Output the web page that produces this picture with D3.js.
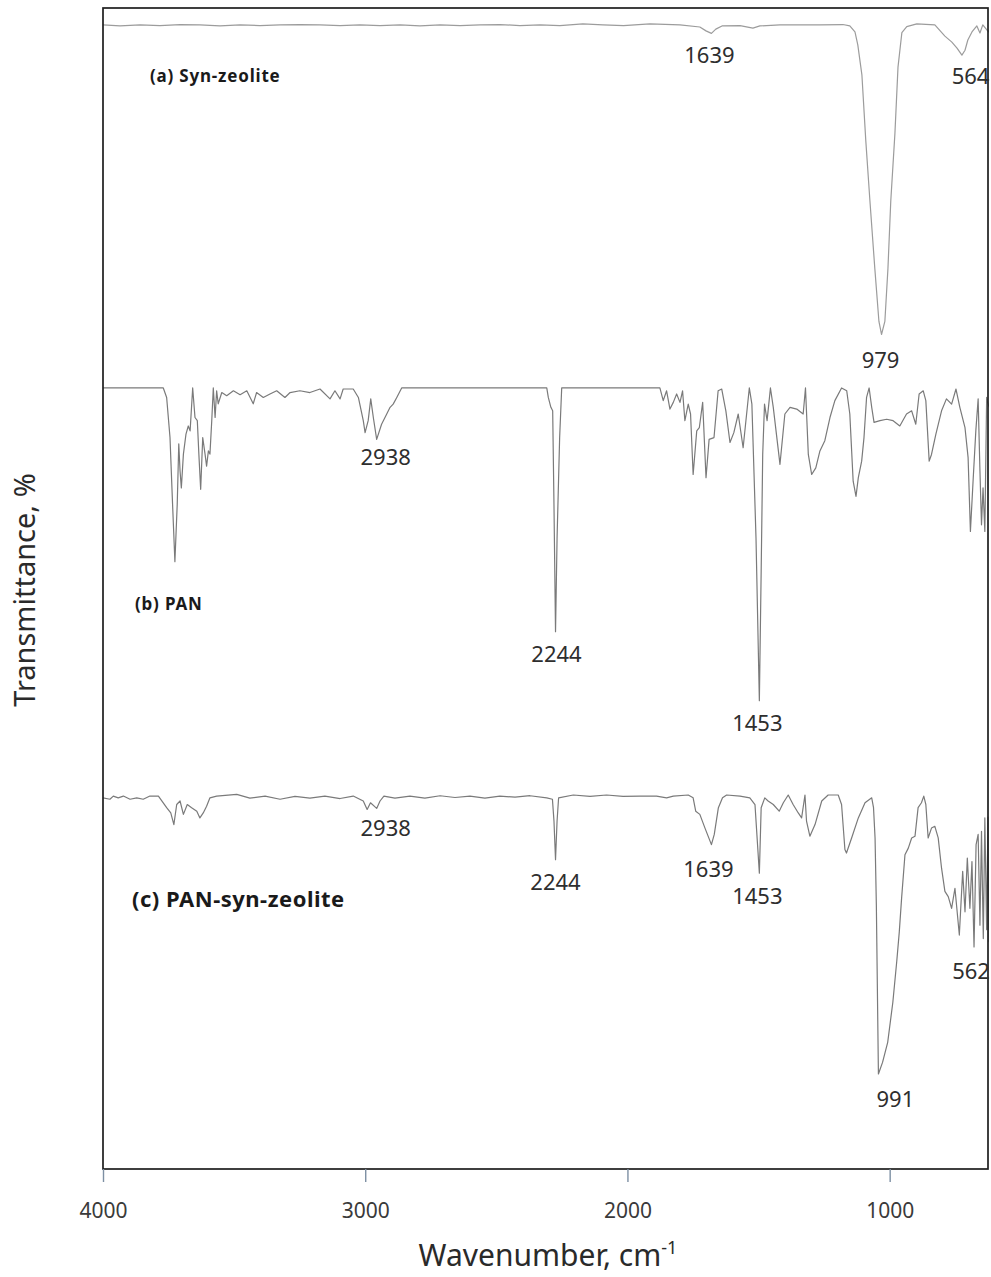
<!DOCTYPE html>
<html>
<head>
<meta charset="utf-8">
<script src="https://cdn.jsdelivr.net/npm/d3@7"></script>
<style>
  html, body { margin: 0; padding: 0; background: #fff; }
  svg { display: block; }
</style>
</head>
<body>
<svg id="chart" width="991" height="1277"></svg>
<script>
// ---- FTIR spectra: wavenumber (cm-1) and transmittance (%) ----

// (a) Syn-zeolite
const waveA = [4000,3934,3856,3779,3701,3624,3546,3468,3391,3313,3236,3158,3080,3003,2925,2847,2770,2692,2614,2537,2459,2382,2304,2227,2138,2060,1980,1878,1761,1684,1660,1639,1622,1598,1528,1478,1451,1373,1296,1218,1129,1102,1082,1071,1055,1040,1024,1005,989,979,966,954,943,927,915,900,881,842,772,733,706,686,667,655,644,628,609,597,586,564,558];
const transA = [98.2,97.9,98.2,98.0,98.3,98.2,97.9,98.2,98.0,98.2,98.3,98.2,98.0,98.2,98.0,98.2,97.9,98.2,98.0,98.2,98.3,98.0,98.2,98.0,98.5,98.2,98.0,98.5,98.2,97.6,96.5,95.8,97.0,97.9,98.0,97.3,97.9,98.2,98.2,98.2,98.3,97.9,96.2,92.5,83.9,65.3,48.2,29.0,13.9,10.2,13.9,29.0,48.2,67.3,86.2,96.0,97.7,98.5,98.2,95.0,93.3,91.6,89.6,91.0,93.9,96.2,97.9,95.9,98.2,96.2,97.3];

// (b) PAN
const waveB = [4000,3766,3753,3740,3730,3721,3712,3706,3701,3696,3688,3678,3669,3662,3652,3643,3634,3628,3621,3613,3604,3598,3591,3585,3578,3572,3565,3559,3553,3539,3520,3494,3468,3442,3417,3404,3378,3352,3326,3294,3274,3236,3197,3158,3119,3100,3080,3068,3029,3009,2990,2983,2971,2961,2951,2938,2919,2899,2886,2874,2860,2841,2770,2600,2400,2278,2272,2262,2255,2250,2244,2238,2228,2220,2000,1839,1826,1813,1800,1787,1774,1761,1751,1742,1729,1720,1710,1696,1686,1673,1660,1648,1629,1613,1599,1583,1567,1552,1535,1516,1492,1482,1466,1453,1446,1440,1433,1423,1410,1399,1373,1354,1334,1308,1283,1274,1263,1250,1234,1218,1199,1179,1160,1134,1114,1102,1089,1078,1069,1056,1047,1037,1027,1017,1008,985,959,934,908,882,862,846,833,817,807,794,785,768,746,727,707,690,675,655,643,634,623,613,604,597,591,585,578,571,565,558];
const transB = [98,98,95.3,83.9,64.9,48.6,64.9,82.1,74.4,69.6,79.2,84.9,87.2,85.8,98,89.6,88.7,79.2,69.2,83.9,79.2,75.8,80.1,79.2,88.7,98,89.6,97.2,93.5,96.7,95.8,97.2,96.1,97.2,93.5,96.7,95.3,96.3,97.2,95.3,96.7,97.2,96.7,97.7,94.9,97.2,94.9,97.7,97.7,95.3,88.7,85.3,88.7,94.9,89.6,83.4,87.7,90.6,92.5,93.4,95.3,98,98,98,98,98,95.3,92.5,91.5,64.9,28.7,55.3,83.9,98,98,98,94.4,97.2,92,93.9,96.3,93.9,97.2,88.7,93.4,90.6,73.4,85.8,86.7,93.9,72.5,83.4,83.9,97.2,97.7,91.5,82.5,85.3,90.6,81,98,93.4,55.3,9.1,45.8,79.1,93.4,88.7,98,92.5,76.3,90.6,92.5,92,90.6,98,79.1,73.4,75.3,80.1,83,89.6,94.4,98,97.2,90.6,71.5,67.2,72.5,77.2,83.9,95.3,98,92.5,88.2,88.7,89.1,88.7,87.2,90.6,91.5,87.7,96.3,97.2,94.4,77.2,79.1,84.9,91.5,94.9,93.4,97.7,92.5,86.7,78.2,57.2,72.5,85.8,94.9,74.4,59.1,69.6,57.2,95.3,93.4,92];

// (c) PAN-syn-zeolite
const waveC = [4000,3973,3960,3941,3921,3895,3869,3844,3818,3785,3753,3737,3725,3714,3701,3688,3673,3656,3636,3624,3611,3598,3585,3559,3481,3430,3371,3313,3255,3197,3139,3080,3029,2990,2975,2962,2938,2925,2910,2867,2809,2751,2692,2634,2576,2518,2460,2401,2343,2278,2256,2250,2244,2238,2232,2175,2110,2046,1982,1916,1852,1813,1787,1729,1710,1700,1684,1664,1639,1628,1612,1596,1580,1528,1490,1470,1453,1446,1432,1419,1399,1376,1360,1341,1322,1302,1289,1276,1270,1257,1237,1211,1186,1147,1134,1121,1115,1095,1069,1043,1017,1010,1004,999,995,991,975,955,935,920,910,901,888,875,862,849,837,824,815,807,798,785,772,759,746,733,720,707,694,677,664,655,646,636,628,620,612,604,597,591,584,578,571,566,562,558];
const transC = [97.5,97.1,98,97.5,98,97.1,97.5,97.1,98,98,94.7,93.2,89.9,95.6,96.6,92.8,95.6,94.7,93.7,91.8,93.2,95.1,97.5,98,98.5,97.4,98,97.1,97.9,97.4,98,97.3,98,96.6,94.2,96.1,94.5,96.6,98,97.4,98,97.4,98.1,97.6,98,97.4,98,97.7,98.1,97.5,97.1,90.9,79.9,90.9,97.5,98.3,97.9,98.3,97.9,98,98,97.5,98,98.3,97.5,93.7,92.8,88.9,84.2,87.1,94.7,97.5,98.3,98,97.5,95.6,76.1,94.7,97.5,96.6,95.6,93.7,96.1,98.3,95.6,93.2,91.8,98.3,90.9,86.6,89.9,96.6,98.3,98.3,95.6,82.8,81.8,86.1,91.8,96.1,97.5,94.7,86,67,43,19.0,22.3,28,39.4,50.9,59.4,69,81.3,83.2,86.1,86.6,94.7,96.1,98,95.6,86.1,88.9,89.4,86.1,77.5,70.9,69.4,66.1,71.8,58.5,76.6,65.1,80.4,66.1,79.4,55.1,84.2,87.1,61.3,88,57.5,91.8,60,92,56.6,90];

// vertical stacking offset of each trace (transmittance units)
const seriesOffsets = [227, 124, 8];
const seriesNames = ["(a) Syn-zeolite", "(b) PAN", "(c) PAN-syn-zeolite"];

// axis ticks
const axisTicks = [4000, 3000, 2000, 1000];

// assigned bands: which trace, and wavenumber
const peakSeries = [0, 0, 0, 1, 1, 1, 2, 2, 2, 2, 2, 2];
const peakWaves  = [1639, 564, 979, 2938, 2244, 1453, 2938, 2244, 1639, 1453, 991, 562];

// ---- layout ----
const plotLeft = 103, plotRight = 988, plotTop = 8, plotBottom = 1169;

const svg = d3.select("#chart");
const fontFamily = "'Noto Sans', 'Open Sans', 'DejaVu Sans', sans-serif";

// spectral scale used by the traces
const x = d3.scaleLinear().domain([4000, 558]).range([plotLeft, 990]);
// printed wavenumber axis
const xAxisScale = d3.scaleLinear().domain([4000, 625]).range([plotLeft, plotRight]);
const y = d3.scaleLinear().domain([0, 330]).range([plotBottom, plotTop]);

const series = [
  { wave: waveA, trans: transA, color: "#9c9c9c" },
  { wave: waveB, trans: transB, color: "#7a7a7a" },
  { wave: waveC, trans: transC, color: "#7a7a7a" }
];

svg.append("defs").append("clipPath").attr("id", "plotClip")
  .append("rect").attr("x", plotLeft).attr("y", plotTop)
  .attr("width", 989 - plotLeft).attr("height", plotBottom - plotTop);

const gLines = svg.append("g").attr("clip-path", "url(#plotClip)");
series.forEach((s, i) => {
  const pts = s.wave.map((w, k) => [w, s.trans[k] + seriesOffsets[i]]);
  gLines.append("path")
    .datum(pts)
    .attr("fill", "none")
    .attr("stroke", s.color)
    .attr("stroke-width", 1.2)
    .attr("stroke-linejoin", "round")
    .attr("d", d3.line().x(d => x(d[0])).y(d => y(d[1])));
});

// frame
svg.append("rect")
  .attr("x", plotLeft).attr("y", plotTop)
  .attr("width", plotRight - plotLeft).attr("height", plotBottom - plotTop)
  .attr("fill", "none").attr("stroke", "#1e1e1e").attr("stroke-width", 1.7);

// x axis
const axis = d3.axisBottom(xAxisScale)
  .tickValues(axisTicks)
  .tickFormat(d3.format("d"))
  .tickSize(13)
  .tickPadding(21);
const gAxis = svg.append("g").attr("transform", `translate(0,${plotBottom})`).call(axis);
gAxis.select(".domain").remove();
gAxis.selectAll(".tick line").attr("stroke", "#7d8fa3").attr("stroke-width", 1.4);
gAxis.selectAll(".tick text")
  .attr("fill", "#3a3a3a")
  .style("font-family", fontFamily)
  .style("font-size", "21px");

// axis titles
const xTitle = svg.append("text")
  .attr("x", 548).attr("y", 1266)
  .attr("text-anchor", "middle")
  .attr("fill", "#2a2a2a")
  .style("font-family", fontFamily)
  .style("font-size", "30px");
xTitle.append("tspan").text("Wavenumber, cm");
xTitle.append("tspan").attr("dy", -12).style("font-size", "18px").text("-1");

svg.append("text")
  .attr("transform", "translate(35,590) rotate(-90)")
  .attr("text-anchor", "middle")
  .attr("fill", "#2a2a2a")
  .style("font-family", fontFamily)
  .style("font-size", "29px")
  .text("Transmittance, %");

// trace names
const nameLayout = [
  { x: 150, y: 82, size: 17, spacing: 0.8 },
  { x: 135, y: 610, size: 17, spacing: 0.8 },
  { x: 132, y: 907, size: 22, spacing: 0.5 }
];
seriesNames.forEach((name, i) => {
  svg.append("text")
    .attr("x", nameLayout[i].x).attr("y", nameLayout[i].y)
    .attr("fill", "#1a1a1a")
    .style("font-family", fontFamily)
    .style("font-weight", "bold")
    .style("font-size", nameLayout[i].size + "px")
    .style("letter-spacing", nameLayout[i].spacing + "px")
    .text(name);
});

// band labels, placed below each band minimum
const peakNudge = [
  { dx: -2, dy: 30, anchor: "middle" },
  { dx: 1,  dy: 52, anchor: "end" },
  { dx: -1, dy: 34, anchor: "middle" },
  { dx: 9,  dy: 26, anchor: "middle" },
  { dx: 1,  dy: 30, anchor: "middle" },
  { dx: -2, dy: 30, anchor: "middle" },
  { dx: 9,  dy: 28, anchor: "middle" },
  { dx: 0,  dy: 30, anchor: "middle" },
  { dx: -3, dy: 32, anchor: "middle" },
  { dx: -2, dy: 31, anchor: "middle" },
  { dx: 17, dy: 33, anchor: "middle" },
  { dx: 1,  dy: 37, anchor: "end" }
];
peakWaves.forEach((w, i) => {
  const s = series[peakSeries[i]];
  const k = s.wave.indexOf(w);
  const t = s.trans[k] + seriesOffsets[peakSeries[i]];
  svg.append("text")
    .attr("x", x(w) + peakNudge[i].dx)
    .attr("y", y(t) + peakNudge[i].dy)
    .attr("text-anchor", peakNudge[i].anchor)
    .attr("fill", "#2e2e2e")
    .style("font-family", fontFamily)
    .style("font-size", "22px")
    .text(w);
});
</script>
</body>
</html>
